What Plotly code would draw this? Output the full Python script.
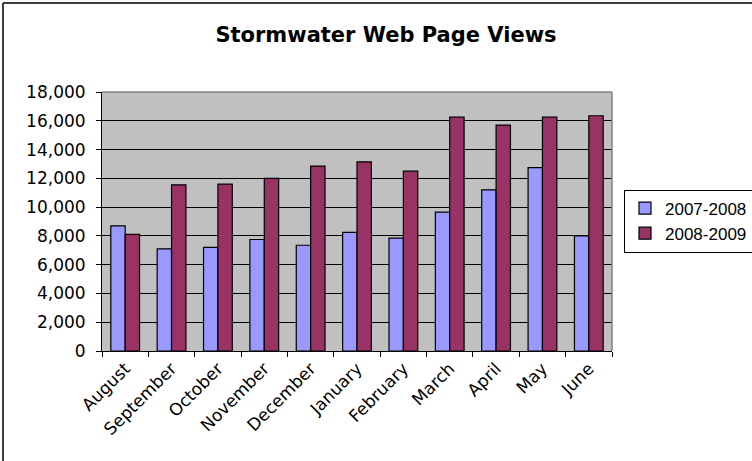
import plotly.graph_objects as go

months = ["August", "September", "October", "November", "December", "January",
          "February", "March", "April", "May", "June"]
views_2007_2008 = [8700, 7100, 7200, 7750, 7350, 8250, 7850, 9650, 11200, 12750, 8000]
views_2008_2009 = [8100, 11550, 11600, 12000, 12850, 13150, 12500, 16250, 15700, 16250, 16350]

W, H = 752, 461
L, R, T, B = 102, 140, 92, 110
pw, ph = W - L - R, H - T - B

fig = go.Figure()
fig.add_trace(go.Bar(x=months, y=views_2007_2008, name="2007-2008",
                     marker=dict(color="#9999FF", line=dict(color="black", width=1.2))))
fig.add_trace(go.Bar(x=months, y=views_2008_2009, name="2008-2009",
                     marker=dict(color="#993366", line=dict(color="black", width=1.2))))

# outer chart border (only top and left edges are inside the picture)
fig.add_shape(type="line", xref="paper", yref="paper",
              x0=(3 - L) / pw, x1=(W + 5 - L) / pw, y0=(H - B - 3) / ph, y1=(H - B - 3) / ph,
              line=dict(color="black", width=1.5))
fig.add_shape(type="line", xref="paper", yref="paper",
              x0=(3 - L) / pw, x1=(3 - L) / pw, y0=(H - B - 3) / ph, y1=-(B + 5) / ph,
              line=dict(color="black", width=1.5))
# gray plot border top/right
fig.add_shape(type="line", xref="paper", yref="paper", x0=0, x1=1, y0=1, y1=1,
              line=dict(color="#808080", width=1.5))
fig.add_shape(type="line", xref="paper", yref="paper", x0=1, x1=1, y0=0, y1=1,
              line=dict(color="#808080", width=1.5))

fig.update_layout(
    width=W, height=H,
    margin=dict(l=L, r=R, t=T, b=B, autoexpand=False),
    paper_bgcolor="white",
    plot_bgcolor="#C0C0C0",
    font=dict(family="DejaVu Sans, Arial, sans-serif", size=17, color="black"),
    title=dict(text="<b>Stormwater Web Page Views</b>", x=386 / W, y=1 - 35 / H,
               xanchor="center", yanchor="middle", font=dict(size=21)),
    barmode="group", bargap=0.38, bargroupgap=0,
    legend=dict(x=(624 - L) / pw, y=(H - B - 221) / ph, xanchor="left", yanchor="middle",
                bordercolor="black", borderwidth=1, bgcolor="white",
                font=dict(family="Liberation Sans, Arial, sans-serif", size=17),
                tracegroupgap=0, itemwidth=30),
    showlegend=True,
)
fig.update_xaxes(showline=True, linecolor="black", linewidth=1, ticks="outside",
                 tickson="boundaries", ticklen=5, tickcolor="black", tickangle=-45,
                 showgrid=False)
fig.update_yaxes(range=[0, 18000], dtick=2000, tickformat=",d", showline=True,
                 linecolor="black", linewidth=1, ticks="outside", ticklen=5,
                 tickcolor="black", gridcolor="black", gridwidth=1, zeroline=False,
                 ticklabelstandoff=7)

fig.write_html("out.html", config={"displayModeBar": False},
               post_script="document.body.style.margin='0';")
